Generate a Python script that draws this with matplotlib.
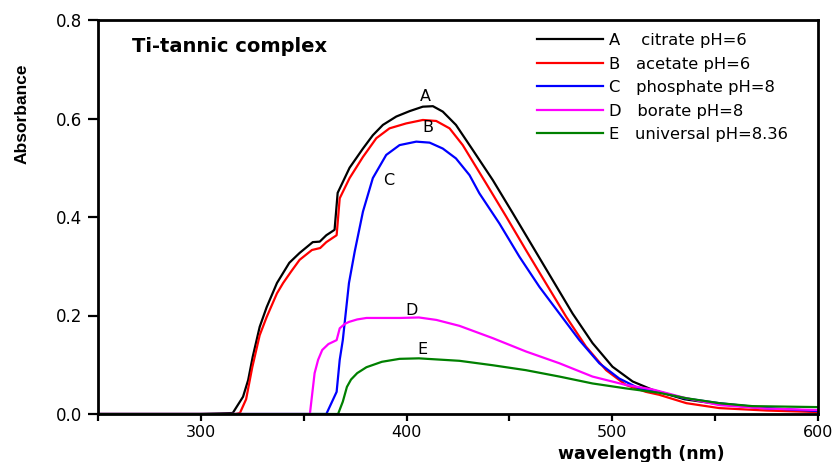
import matplotlib
matplotlib.use("Agg")
import matplotlib.pyplot as plt
from matplotlib.ticker import FixedLocator

# ---- data ----
wl_A = [250, 300, 315.5, 320.5, 323, 325.2, 328.6, 332, 337, 343, 348, 354.4, 357.8, 361, 365,
        366.5, 372.3, 378.8, 383.6, 388.5, 395, 401.5, 407.9, 412.8, 417.6, 424, 432.2, 441.9,
        451.6, 461.3, 471, 480.7, 490.4, 500.1, 509.9, 519.6, 535, 552, 575, 600]
abs_A = [0, 0, 0.002, 0.035, 0.069, 0.116, 0.177, 0.217, 0.266, 0.307, 0.327, 0.349, 0.350, 0.363, 0.374,
         0.449, 0.500, 0.539, 0.566, 0.587, 0.604, 0.615, 0.624, 0.625, 0.614, 0.587, 0.536, 0.475,
         0.408, 0.340, 0.272, 0.204, 0.144, 0.096, 0.066, 0.049, 0.030, 0.020, 0.011, 0.005]

wl_B = [250, 317, 319, 322, 325, 328.6, 332, 337, 340, 344, 348, 354, 358, 361, 366,
        367.5, 372.3, 378.8, 385.3, 391.7, 399.8, 407.9, 414.4, 420.9, 427.3, 438.7, 448.4, 458,
        467.8, 477.5, 487.2, 497, 506.6, 516.3, 522.8, 536, 552, 575, 600]
abs_B = [0, 0, 0.002, 0.03, 0.095, 0.160, 0.197, 0.245, 0.266, 0.290, 0.313, 0.333, 0.337, 0.349, 0.363,
         0.438, 0.479, 0.522, 0.560, 0.580, 0.590, 0.597, 0.595, 0.580, 0.546, 0.468, 0.401, 0.333,
         0.265, 0.198, 0.137, 0.089, 0.059, 0.045, 0.039, 0.022, 0.012, 0.007, 0.004]

wl_C = [250, 361, 366, 367.5, 369, 372, 374.8, 378.8, 383.6, 390.1, 396.6, 404.7, 411.2, 417.6,
        424, 430.6, 435.4, 445.1, 454.9, 464.6, 474.3, 484, 493.7, 503.4, 513, 522.8, 535, 552, 575, 600]
abs_C = [0, 0, 0.045, 0.110, 0.150, 0.266, 0.330, 0.411, 0.479, 0.526, 0.546, 0.553, 0.551, 0.539,
         0.519, 0.485, 0.448, 0.387, 0.319, 0.258, 0.204, 0.150, 0.103, 0.072, 0.052, 0.045, 0.032,
         0.022, 0.012, 0.006]

wl_D = [250, 353, 355.3, 357, 359, 362, 364, 366, 367.5, 370, 372, 376, 380.5, 396.6, 406,
        414.5, 425.7, 441.9, 458, 474.3, 490.4, 506.6, 519.5, 535, 552, 575, 600]
abs_D = [0, 0, 0.083, 0.110, 0.130, 0.142, 0.146, 0.150, 0.174, 0.183, 0.187, 0.192, 0.195, 0.195, 0.196,
         0.191, 0.179, 0.154, 0.127, 0.103, 0.076, 0.059, 0.050, 0.033, 0.018, 0.011, 0.008]

wl_E = [250, 366.7, 369, 371, 373, 376, 380.5, 388, 396.6, 406, 425.7, 441.9, 458, 474.3, 490.4,
        506.6, 522.8, 536, 552, 568, 600]
abs_E = [0, 0, 0.025, 0.055, 0.070, 0.083, 0.095, 0.106, 0.112, 0.113, 0.108, 0.099, 0.089, 0.076, 0.062,
         0.052, 0.043, 0.032, 0.022, 0.016, 0.014]

series_letters = ["A", "B", "C", "D", "E"]
series_names = [" citrate pH=6", "acetate pH=6", "phosphate pH=8", "borate pH=8", "universal pH=8.36"]
series_colors = ["#000000", "#ff0000", "#0000ff", "#ff00ff", "#008000"]
# curve-label anchor positions (wavelength, absorbance)
label_pos = [(409.2, 0.644), (410.2, 0.581), (391.3, 0.475), (402.4, 0.211), (407.8, 0.130)]

x_major = [300, 400, 500, 600]
x_minor = [250, 350, 450, 550]
y_ticks = [0.0, 0.2, 0.4, 0.6, 0.8]

# ---- figure ----
plt.rcParams['font.family'] = ['DejaVu Sans']
fig = plt.figure(figsize=(8.39, 4.62), dpi=100)
ax = fig.add_axes([98/839, 48/462, 720/839, 394/462])

data = [(wl_A, abs_A), (wl_B, abs_B), (wl_C, abs_C), (wl_D, abs_D), (wl_E, abs_E)]
for (x, y), letter, name, c in zip(data, series_letters, series_names, series_colors):
    ax.plot(x, y, color=c, lw=1.6, label=f"{letter}   {name}", solid_joinstyle="round")

for (px, py), letter in zip(label_pos, series_letters):
    ax.text(px, py, letter, fontsize=11.5, ha="center", va="center")

ax.set_xlim(250, 600)
ax.set_ylim(0, 0.8)
ax.xaxis.set_major_locator(FixedLocator(x_major))
ax.xaxis.set_minor_locator(FixedLocator(x_minor))
ax.set_yticks(y_ticks)
ax.set_yticklabels([f"{v:.1f}" for v in y_ticks])

for s in ax.spines.values():
    s.set_linewidth(2)
ax.tick_params(axis="both", which="both", direction="out", width=1.6,
               top=False, right=False)
ax.tick_params(axis="x", which="both", length=5, pad=3, labelsize=11.5)
ax.tick_params(axis="y", which="both", length=7.5, pad=4, labelsize=12)

ax.set_xlabel("wavelength (nm)", fontsize=12.5, fontweight="bold", va="top")
ax.xaxis.set_label_coords((641 - 98) / 720, -0.078)

fig.text(22/839, 1 - 114/462, "Absorbance", rotation=90, ha="center", va="center",
         fontsize=12.5, fontweight="bold", family=["Liberation Sans Narrow", "Liberation Sans"])

ax.text((132 - 98) / 720, (414 - 47) / 394, "Ti-tannic complex", transform=ax.transAxes,
        fontsize=14, fontweight="bold", ha="left", va="center")

leg = ax.legend(loc="upper left", bbox_to_anchor=((537 - 98) / 720, (414 - 33) / 394),
                frameon=False, fontsize=11.8, handlelength=4.0, handletextpad=0.4,
                labelspacing=0.52, borderpad=0, borderaxespad=0)
for lh in leg.get_lines():
    lh.set_linewidth(1.6)

fig.savefig("out.png", dpi=100)
